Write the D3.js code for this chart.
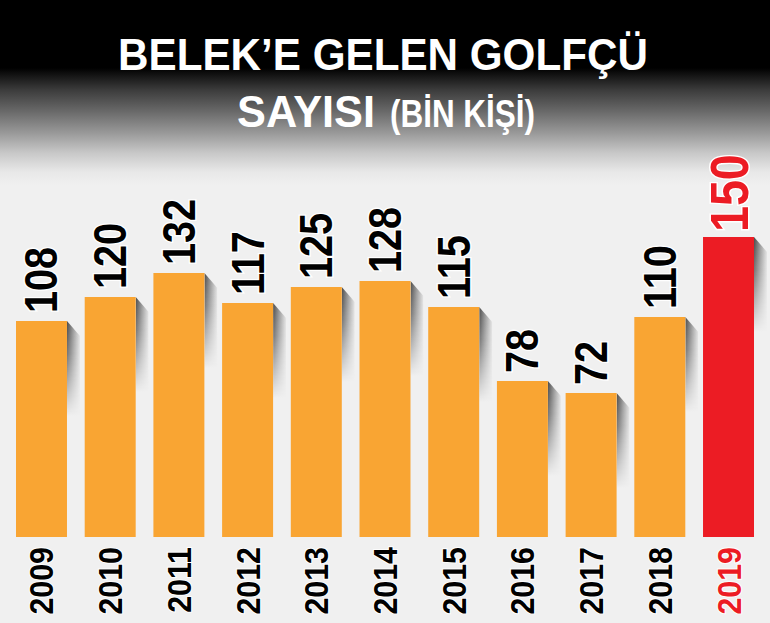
<!DOCTYPE html>
<html>
<head>
<meta charset="utf-8">
<script src="https://cdn.jsdelivr.net/npm/d3@7"></script>
<style>
  html, body { margin: 0; padding: 0; background: #f0f0f0; }
  svg { display: block; }
</style>
</head>
<body>
<div id="chart"></div>
<script>

const years = ['2009', '2010', '2011', '2012', '2013', '2014', '2015', '2016', '2017', '2018', '2019'];
const golfers = [108, 120, 132, 117, 125, 128, 115, 78, 72, 110, 150];
const highlightYear = '2019';
const titleLines = ['BELEK’E GELEN GOLFÇÜ', 'SAYISI', '(BİN KİŞİ)'];


/**
 * @private
 * @class
 */
class GolferChart {


  /**
   * @public
   * @constructor
   * @param {String} selector
   */
  constructor(selector) {

    this._width = 770;
    this._height = 623;

    this._orange = '#f9a533';
    this._red = '#ec1c24';

    this._svg = d3.select(selector)
      .append('svg')
      .attr('width', this._width)
      .attr('height', this._height);

    this._xScale = d3.scaleBand()
      .domain(years)
      .range([16, 754])
      .paddingInner(0.258)
      .paddingOuter(0);

    this._yScale = d3.scaleLinear()
      .domain([0, 150])
      .range([537, 237]);
  }


  /**
   * Gradients for the background and bar shadows.
   * @private
   */
  _renderDefs() {

    const defs = this._svg.append('defs');

    const bg = defs.append('linearGradient')
      .attr('id', 'bg')
      .attr('gradientUnits', 'userSpaceOnUse')
      .attr('x1', 0).attr('y1', 0)
      .attr('x2', 0).attr('y2', this._height);

    [[0, '#000'], [68, '#000'], [90, '#3c3c3c'], [110, '#666'], [133, '#999'],
      [153, '#c8c8c8'], [172, '#e8e8e8'], [185, '#f0f0f0'], [623, '#f0f0f0']]
      .forEach(s => bg.append('stop')
        .attr('offset', s[0] / this._height)
        .attr('stop-color', s[1]));

    const shade = defs.append('linearGradient')
      .attr('id', 'shade')
      .attr('x1', 0).attr('y1', 0)
      .attr('x2', 1).attr('y2', 0);

    shade.append('stop').attr('offset', 0).attr('stop-color', '#4a4a4a');
    shade.append('stop').attr('offset', 0.5).attr('stop-color', '#9a9a9a');
    shade.append('stop').attr('offset', 1).attr('stop-color', '#e4e4e4');

    const fade = defs.append('linearGradient')
      .attr('id', 'fade')
      .attr('x1', 0).attr('y1', 0)
      .attr('x2', 0).attr('y2', 1);

    fade.append('stop').attr('offset', 0).attr('stop-color', '#fff');
    fade.append('stop').attr('offset', 0.35).attr('stop-color', '#bbb');
    fade.append('stop').attr('offset', 1).attr('stop-color', '#000');

    defs.append('mask')
      .attr('id', 'fadeMask')
      .attr('maskContentUnits', 'objectBoundingBox')
      .append('rect')
      .attr('width', 1)
      .attr('height', 1)
      .attr('fill', 'url(#fade)');
  }


  /**
   * @private
   */
  _renderTitle() {

    this._svg.append('rect')
      .attr('width', this._width)
      .attr('height', this._height)
      .attr('fill', 'url(#bg)');

    const title = this._svg.append('g')
      .attr('fill', '#fff')
      .style('font-family', '"Liberation Sans", Arial, sans-serif')
      .style('font-weight', 'bold');

    title.append('text')
      .attr('x', 118)
      .attr('y', 70)
      .attr('font-size', 44)
      .attr('textLength', 530)
      .attr('lengthAdjust', 'spacingAndGlyphs')
      .text(titleLines[0]);

    title.append('text')
      .attr('x', 237)
      .attr('y', 127)
      .attr('font-size', 45)
      .attr('textLength', 138)
      .attr('lengthAdjust', 'spacingAndGlyphs')
      .text(titleLines[1]);

    title.append('text')
      .attr('x', 390)
      .attr('y', 127)
      .attr('font-size', 38)
      .attr('textLength', 145)
      .attr('lengthAdjust', 'spacingAndGlyphs')
      .text(titleLines[2]);
  }


  /**
   * Render bars, shadows and labels.
   * @private
   */
  _renderBars() {

    const data = years.map((y, i) => ({ year: y, value: golfers[i] }));
    const x = this._xScale;
    const y = this._yScale;
    const w = x.bandwidth();
    const color = d => d.year === highlightYear ? this._red : this._orange;

    this._svg.append('g')
      .selectAll('path')
      .data(data)
      .join('path')
      .attr('d', d => {
        const x1 = x(d.year) + w;
        const top = y(d.value);
        return `M${x1},${top}L${x1 + 13},${top + 15}L${x1 + 13},${top + 95}L${x1},${top + 95}Z`;
      })
      .attr('fill', 'url(#shade)')
      .attr('mask', 'url(#fadeMask)');

    this._svg.append('g')
      .selectAll('rect')
      .data(data)
      .join('rect')
      .attr('x', d => x(d.year))
      .attr('y', d => y(d.value))
      .attr('width', w)
      .attr('height', d => y(0) - y(d.value))
      .attr('fill', color);

    const font = '"Liberation Sans", Arial, sans-serif';

    this._svg.append('g')
      .selectAll('text')
      .data(data)
      .join('text')
      .attr('transform', d => {
        const big = d.year === highlightYear;
        const cx = x(d.year) + w / 2 + (big ? 19 : 16);
        const cy = y(d.value) - (big ? 5 : 8);
        return `translate(${cx},${cy}) rotate(-90) scale(${big ? 0.88 : 0.86},1)`;
      })
      .attr('font-size', d => d.year === highlightYear ? 53 : 46)
      .style('font-family', font)
      .style('font-weight', 'bold')
      .attr('fill', d => d.year === highlightYear ? this._red : '#000')
      .attr('stroke', '#fff')
      .attr('stroke-width', 3)
      .attr('paint-order', 'stroke')
      .text(d => d.value);

    this._svg.append('g')
      .selectAll('text')
      .data(data)
      .join('text')
      .attr('transform', d => `translate(${x(d.year) + w / 2 + 12},547) rotate(-90) scale(0.92,1)`)
      .attr('text-anchor', 'end')
      .attr('font-size', 33)
      .style('font-family', font)
      .style('font-weight', 'bold')
      .attr('fill', d => d.year === highlightYear ? this._red : '#000')
      .attr('stroke', '#fff')
      .attr('stroke-width', 2)
      .attr('paint-order', 'stroke')
      .text(d => d.year);
  }


  /**
   * @public
   * @returns {GolferChart}
   */
  render() {

    this._renderDefs();
    this._renderTitle();
    this._renderBars();
    return this;
  }
}


new GolferChart('#chart').render();
</script>
</body>
</html>
